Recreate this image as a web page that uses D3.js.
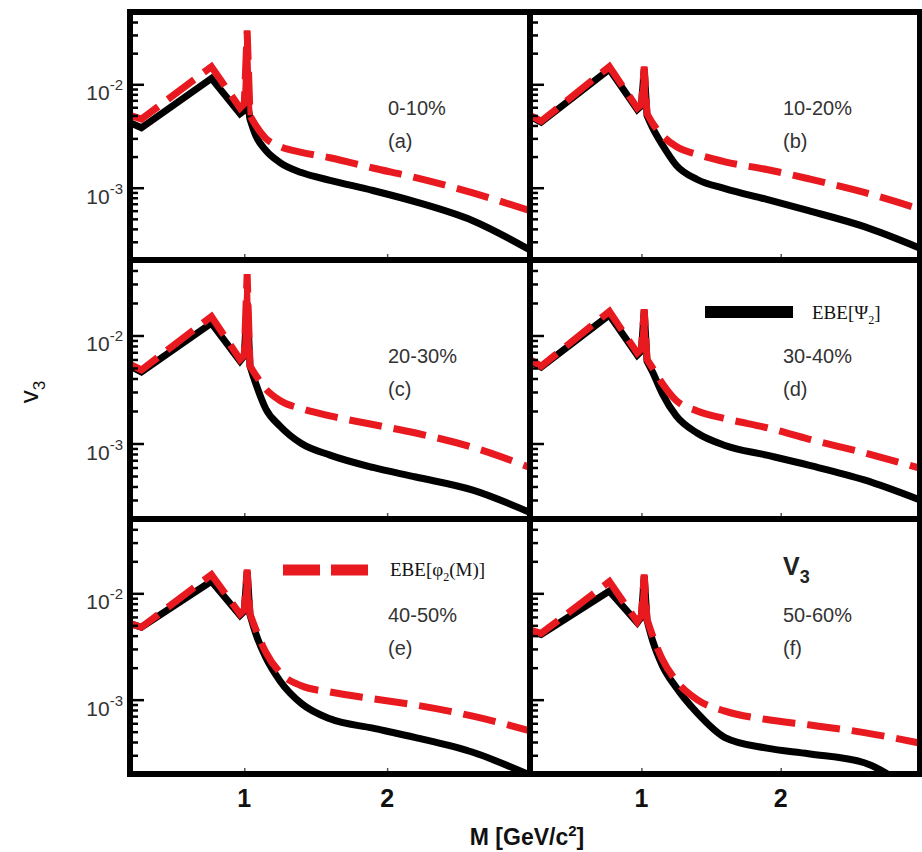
<!DOCTYPE html>
<html>
<head>
<meta charset="utf-8">
<script src="https://cdn.jsdelivr.net/npm/d3@7"></script>
<style>
  body { margin: 0; background: #fff; }
  svg { display: block; font-family: "Liberation Sans", Arial, sans-serif; }
  .serif { font-family: "Liberation Serif", "Times New Roman", serif; }
</style>
</head>
<body>
<svg id="chart" width="922" height="852"></svg>
<script>
// invariant mass grid (GeV/c^2) shared by every curve
var massGrid = [0.2, 0.28, 0.77, 0.97, 1.0, 1.02, 1.04, 1.08, 1.15, 1.25, 1.4, 1.6, 1.9, 2.2, 2.6, 3.0];

var centralities = ["0-10%", "10-20%", "20-30%", "30-40%", "40-50%", "50-60%"];
var panelTags = ["(a)", "(b)", "(c)", "(d)", "(e)", "(f)"];

// v3 with EBE[Psi_2] (black, solid)
var psiA = [4.25e-3, 3.8e-3, 1.14e-2, 5.2e-3, 5.6e-3, 7e-3, 4.6e-3, 3.2e-3, 2.3e-3, 1.75e-3, 1.4e-3, 1.18e-3, 9.4e-4, 7.3e-4, 4.8e-4, 2.5e-4];
var psiB = [4.9e-3, 4.3e-3, 1.4e-2, 5.7e-3, 6.2e-3, 1.4e-2, 5.0e-3, 3.8e-3, 2.6e-3, 1.65e-3, 1.2e-3, 9.8e-4, 7.7e-4, 6.0e-4, 4.2e-4, 2.6e-4];
var psiC = [5.2e-3, 4.6e-3, 1.3e-2, 5.8e-3, 6.5e-3, 2e-2, 5.2e-3, 3.6e-3, 2.1e-3, 1.45e-3, 1.0e-3, 7.8e-4, 6.0e-4, 4.9e-4, 3.7e-4, 2.3e-4];
var psiD = [5.8e-3, 5.1e-3, 1.55e-2, 6.6e-3, 7.2e-3, 1.7e-2, 5.8e-3, 4.6e-3, 2.9e-3, 1.8e-3, 1.25e-3, 9.6e-4, 7.8e-4, 6.3e-4, 4.6e-4, 3.0e-4];
var psiE = [5.2e-3, 4.8e-3, 1.3e-2, 6.2e-3, 6.8e-3, 1.6e-2, 6.3e-3, 4.2e-3, 2.5e-3, 1.5e-3, 9.2e-4, 6.6e-4, 5.4e-4, 4.4e-4, 3.2e-4, 1.95e-4];
var psiF = [4.4e-3, 4.1e-3, 1.05e-2, 5.3e-3, 6.0e-3, 1.45e-2, 5.6e-3, 3.6e-3, 2.1e-3, 1.3e-3, 7.5e-4, 4.4e-4, 3.5e-4, 3.1e-4, 2.55e-4, 1.2e-4];

// v3 with EBE[phi_2(M)] (red, dashed)
var phiA = [5.0e-3, 4.6e-3, 1.48e-2, 5.9e-3, 6.5e-3, 3.3e-2, 5.0e-3, 4.0e-3, 3.0e-3, 2.5e-3, 2.2e-3, 1.95e-3, 1.55e-3, 1.25e-3, 8.9e-4, 6.0e-4];
var phiB = [5.0e-3, 4.4e-3, 1.48e-2, 5.9e-3, 6.4e-3, 1.48e-2, 5.2e-3, 4.2e-3, 3.2e-3, 2.5e-3, 2.1e-3, 1.78e-3, 1.5e-3, 1.22e-3, 9.0e-4, 6.2e-4];
var phiC = [5.4e-3, 4.8e-3, 1.5e-2, 6.0e-3, 6.6e-3, 3.7e-2, 5.2e-3, 4.3e-3, 3.2e-3, 2.5e-3, 2.1e-3, 1.8e-3, 1.5e-3, 1.25e-3, 9.2e-4, 6.0e-4];
var phiD = [6.0e-3, 5.2e-3, 1.67e-2, 6.9e-3, 7.5e-3, 1.75e-2, 6.0e-3, 5.0e-3, 3.6e-3, 2.5e-3, 2.0e-3, 1.7e-3, 1.4e-3, 1.1e-3, 8.2e-4, 5.9e-4];
var phiE = [5.2e-3, 4.8e-3, 1.5e-2, 6.4e-3, 7.0e-3, 1.67e-2, 6.4e-3, 4.6e-3, 2.8e-3, 1.8e-3, 1.35e-3, 1.18e-3, 1.02e-3, 8.9e-4, 7.0e-4, 5.1e-4];
var phiF = [4.5e-3, 4.2e-3, 1.29e-2, 5.4e-3, 6.2e-3, 1.5e-2, 5.7e-3, 4.0e-3, 2.4e-3, 1.5e-3, 1.0e-3, 7.8e-4, 6.5e-4, 5.8e-4, 4.9e-4, 3.9e-4];

var xTickValues = [1, 2];
var yLabelTicks = [1e-2, 1e-3];
var yLabelExponents = ["-2", "-3"];

var psiSeries = [psiA, psiB, psiC, psiD, psiE, psiF];
var phiSeries = [phiA, phiB, phiC, phiD, phiE, phiF];

var colEdges = [130, 530, 920];
var rowEdges = [12, 260, 519, 774];
var red = "#e8191f";
var splitMass = 1.04; // kinked resonance part left of this, smooth tail right of it

var svg = d3.select("#chart");
var defs = svg.append("defs");

function buildPanel(i) {
    var col = i % 2, row = Math.floor(i / 2);
    var x0 = colEdges[col], x1 = colEdges[col + 1];
    var y0 = rowEdges[row], y1 = rowEdges[row + 1];

    var x = d3.scaleLinear().domain([0.2, 3.0]).range([x0, x1]);
    var y = d3.scaleLog().domain([2e-4, 5e-2]).range([y1, y0]);

    defs.append("clipPath").attr("id", "clip" + i)
        .append("rect").attr("x", x0).attr("y", y0).attr("width", x1 - x0).attr("height", y1 - y0);

    var g = svg.append("g");
    var plot = g.append("g").attr("clip-path", "url(#clip" + i + ")");

    var kinked = d3.line()
        .x(function (d) { return x(d[0]); })
        .y(function (d) { return y(d[1]); });
    var smooth = d3.line()
        .x(function (d) { return x(d[0]); })
        .y(function (d) { return y(d[1]); })
        .curve(d3.curveMonotoneX);
    // one continuous path: straight segments through the peaks, smooth tail
    function pathOf(pts) {
        var head = pts.filter(function (d) { return d[0] <= splitMass; });
        var tail = pts.filter(function (d) { return d[0] >= splitMass; });
        return kinked(head) + smooth(tail).replace(/^M/, "L");
    }

    var psi = massGrid.map(function (m, k) { return [m, psiSeries[i][k]]; });
    var phi = massGrid.map(function (m, k) { return [m, phiSeries[i][k]]; });

    plot.append("path")
        .attr("d", pathOf(psi)).attr("fill", "none")
        .attr("stroke", "#000").attr("stroke-width", 7);

    plot.append("path")
        .attr("d", pathOf(phi)).attr("fill", "none")
        .attr("stroke", red).attr("stroke-width", 7)
        .attr("stroke-dasharray", "33,12");

    // the phi spike is drawn solid in the original
    plot.append("path").datum(phi.filter(function (d) { return d[0] >= 0.97 && d[0] <= 1.04; }))
        .attr("d", kinked).attr("fill", "none")
        .attr("stroke", red).attr("stroke-width", 5);

    // y ticks pointing inward
    var minor = y.ticks().filter(function (v) { return yLabelTicks.indexOf(v) < 0; });
    g.append("g").attr("transform", "translate(" + x0 + ",0)")
        .call(d3.axisRight(y).tickValues(minor).tickSize(8).tickFormat(""))
        .call(function (a) { a.select(".domain").remove(); })
        .call(function (a) { a.selectAll("line").attr("stroke-width", 2.5); });
    g.append("g").attr("transform", "translate(" + x0 + ",0)")
        .call(d3.axisRight(y).tickValues(yLabelTicks).tickSize(14).tickFormat(""))
        .call(function (a) { a.select(".domain").remove(); })
        .call(function (a) { a.selectAll("line").attr("stroke-width", 2.5); });

    // x ticks pointing up from the bottom
    g.append("g").attr("transform", "translate(0," + y1 + ")")
        .call(d3.axisTop(x).tickValues(xTickValues).tickSize(6).tickFormat(""))
        .call(function (a) { a.select(".domain").remove(); })
        .call(function (a) { a.selectAll("line").attr("stroke", "#555").attr("stroke-width", 1.5); });

    g.append("rect")
        .attr("x", x0).attr("y", y0).attr("width", x1 - x0).attr("height", y1 - y0)
        .attr("fill", "none").attr("stroke", "#000").attr("stroke-width", 6);

    if (col === 0) {
        yLabelTicks.forEach(function (v, k) {
            var t = g.append("text")
                .attr("x", x0 - 7).attr("y", y(v) + 16)
                .attr("text-anchor", "end")
                .attr("fill", "#333").attr("font-size", 21);
            t.append("tspan").text("10");
            t.append("tspan").attr("dy", -10).attr("font-size", 15).text(yLabelExponents[k]);
        });
    }
    if (row === 2) {
        xTickValues.forEach(function (v) {
            g.append("text")
                .attr("x", x(v)).attr("y", 807)
                .attr("text-anchor", "middle")
                .attr("font-weight", "bold").attr("font-size", 25)
                .attr("fill", "#111")
                .text(v);
        });
    }

    var tx = x0 + (col === 0 ? 258 : 253);
    g.append("text").attr("x", tx).attr("y", y0 + 103)
        .attr("font-size", 20).attr("fill", "#333").text(centralities[i]);
    g.append("text").attr("x", tx).attr("y", y0 + 136)
        .attr("font-size", 20).attr("fill", "#333").text(panelTags[i]);

    return { x: x, y: y, g: g };
}

var panels = d3.range(6).map(buildPanel);

// legend entries
var pd = panels[3].g;
pd.append("line").attr("x1", 705).attr("x2", 793).attr("y1", 312).attr("y2", 312)
    .attr("stroke", "#000").attr("stroke-width", 12);
var ld = pd.append("text").attr("class", "serif").attr("x", 812).attr("y", 319)
    .attr("font-size", 19).attr("fill", "#111");
ld.append("tspan").text("EBE[\u03A8");
ld.append("tspan").attr("dy", 5).attr("font-size", 12).text("2");
ld.append("tspan").attr("dy", -5).text("]");

var pe = panels[4].g;
pe.append("line").attr("x1", 283).attr("x2", 368).attr("y1", 570).attr("y2", 570)
    .attr("stroke", red).attr("stroke-width", 11).attr("stroke-dasharray", "37,11");
var le = pe.append("text").attr("class", "serif").attr("x", 390).attr("y", 576)
    .attr("font-size", 19).attr("fill", "#111");
le.append("tspan").text("EBE[\u03C6");
le.append("tspan").attr("dy", 5).attr("font-size", 12).text("2");
le.append("tspan").attr("dy", -5).text("(M)]");

var vt = panels[5].g.append("text").attr("x", 783).attr("y", 575)
    .attr("font-weight", "bold").attr("font-size", 25).attr("fill", "#222");
vt.append("tspan").text("V");
vt.append("tspan").attr("dy", 8).attr("font-size", 18).text("3");

// axis titles
var xt = svg.append("text").attr("x", 527).attr("y", 845)
    .attr("text-anchor", "middle").attr("font-weight", "bold")
    .attr("font-size", 23).attr("fill", "#111");
xt.append("tspan").text("M [GeV/c");
xt.append("tspan").attr("dy", -9).attr("font-size", 15).text("2");
xt.append("tspan").attr("dy", 9).text("]");

var yt = svg.append("text")
    .attr("transform", "translate(38,392) rotate(-90)")
    .attr("text-anchor", "middle").attr("font-size", 26).attr("fill", "#111");
yt.append("tspan").text("v");
yt.append("tspan").attr("dy", 7).attr("font-size", 17).text("3");
</script>
</body>
</html>
